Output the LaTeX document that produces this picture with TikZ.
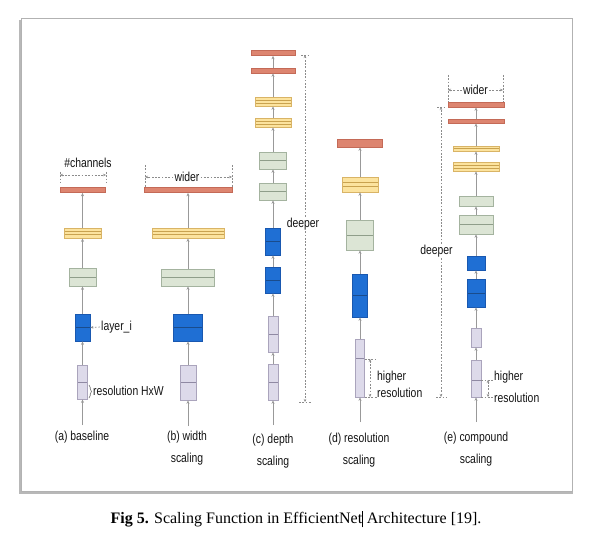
\documentclass[tikz,border=0pt]{standalone}
\usepackage{fontspec}
\setmainfont{Liberation Serif}
\newfontfamily\narrowsans[FakeStretch=0.8]{Liberation Sans}
\usetikzlibrary{arrows.meta,calc,positioning,decorations.pathreplacing}

\definecolor{redfill}{HTML}{DD8570}
\definecolor{rededge}{HTML}{C46A57}
\definecolor{yelfill}{HTML}{FCE39E}
\definecolor{yeledge}{HTML}{D9B466}
\definecolor{yelln}{HTML}{C9A24F}
\definecolor{grnfill}{HTML}{DCE5D5}
\definecolor{grnedge}{HTML}{A4B39F}
\definecolor{grnln}{HTML}{8F9E8A}
\definecolor{blufill}{HTML}{1F6FD4}
\definecolor{bluedge}{HTML}{1958B0}
\definecolor{bluln}{HTML}{1A4C8C}
\definecolor{lavfill}{HTML}{DDDAEA}
\definecolor{lavedge}{HTML}{AAA4BC}
\definecolor{lavln}{HTML}{8F89A3}

\begin{document}
\begin{tikzpicture}[x=1pt, y=-1pt,
  every node/.style={font=\narrowsans\fontsize{13}{22}\selectfont, text=black!92, inner sep=1pt},
  blk/.style={draw, line width=0.7pt, inner sep=0pt},
  red/.style 2 args={blk, fill=redfill, draw=rededge, minimum width=#1, minimum height=#2},
  yel/.style 2 args={blk, fill=yelfill, draw=yeledge, minimum width=#1, minimum height=#2},
  grn/.style 2 args={blk, fill=grnfill, draw=grnedge, minimum width=#1, minimum height=#2},
  blu/.style 2 args={blk, fill=blufill, draw=bluedge, minimum width=#1, minimum height=#2},
  lav/.style 2 args={blk, fill=lavfill, draw=lavedge, minimum width=#1, minimum height=#2},
  cutat/.style 2 args={path picture={\draw[#1, line width=0.7pt]
     ($(path picture bounding box.north west)!#2!(path picture bounding box.south west)$) --
     ($(path picture bounding box.north east)!#2!(path picture bounding box.south east)$);}},
  half/.style={cutat={#1}{.5}},
  thirds/.style={path picture={\draw[yelln, line width=0.6pt]
     ($(path picture bounding box.north west)!.35!(path picture bounding box.south west)$) --
     ($(path picture bounding box.north east)!.35!(path picture bounding box.south east)$)
     ($(path picture bounding box.north west)!.65!(path picture bounding box.south west)$) --
     ($(path picture bounding box.north east)!.65!(path picture bounding box.south east)$);}},
  axis/.style={draw=black!40, line width=0.8pt, -{Stealth[length=3.5pt,width=3pt]}},
  dim/.style={draw=black!45, line width=0.6pt, dash pattern=on 1.8pt off 1.5pt},
  dimar/.style={dim, -{Stealth[length=3pt,width=2.5pt]}}]

  \useasboundingbox (0,0) rectangle (591,545);
  \fill[white] (0,0) rectangle (591,545);
  % framed panel with shadow
  \fill[black!28] (19,20) rectangle (573,494);
  \draw[fill=white, draw=black!30, line width=0.6pt] (21,18) rectangle (572,491);

  % (a) baseline
  \coordinate (a0) at (82.5,425);
  \node[lav={10}{34}, half=lavln] (a1) at (82.5,382) {};
  \node[blu={15}{27}, half=bluln] (a2) at (82.5,327.5) {};
  \node[grn={27}{18}, half=grnln] (a3) at (82.5,277) {};
  \node[yel={37}{10}, thirds]     (a4) at (82.5,233) {};
  \node[red={45}{5}]              (a5) at (82.5,190) {};
  \draw[axis] (a0) -- (a1);  \draw[axis] (a1) -- (a2);  \draw[axis] (a2) -- (a3);
  \draw[axis] (a3) -- (a4);  \draw[axis] (a4) -- (a5);
  \node (ach) at (88,163) {\#channels};
  \coordinate (acl) at (60,175);  \coordinate (acr) at (106,175);
  \draw[dim, {Stealth[length=3pt,width=2.5pt]}-{Stealth[length=3pt,width=2.5pt]}] (acl) -- (acr);
  \draw[dim] ([yshift=3]acl) -- ([yshift=-7]acl)  ([yshift=3]acr) -- ([yshift=-7]acr);
  \node[anchor=west] (alay) at (100,327) {layer\_i};
  \draw[dimar] (alay.west) -- (a2.east);
  \draw[black!60, line width=0.6pt, decorate, decoration={brace, amplitude=2.5pt}] (89,385) -- (89,398);
  \node[anchor=west] (ares) at (92,391) {resolution HxW};
  \node (acap) at (82,437) {(a) baseline};

  % (b) width scaling
  \coordinate (b0) at (188,426);
  \node[lav={16}{35}, half=lavln] (b1) at (188,382.5) {};
  \node[blu={29}{27}, half=bluln] (b2) at (188,327.5) {};
  \node[grn={53}{17}, half=grnln] (b3) at (188,277.5) {};
  \node[yel={72}{10}, thirds]     (b4) at (188,233) {};
  \node[red={88}{5}]              (b5) at (188,190) {};
  \draw[axis] (b0) -- (b1);  \draw[axis] (b1) -- (b2);  \draw[axis] (b2) -- (b3);
  \draw[axis] (b3) -- (b4);  \draw[axis] (b4) -- (b5);
  \node (bwd) at (187,177) {wider};
  \coordinate (bwl) at (145,177);  \coordinate (bwr) at (232,177);
  \draw[dimar] (bwd.west) -- (bwl);  \draw[dimar] (bwd.east) -- (bwr);
  \draw[dim] ([yshift=12]bwl) -- ([yshift=-11]bwl)  ([yshift=12]bwr) -- ([yshift=-11]bwr);
  \node[align=center] (bcap) at (187,448) {(b) width\\scaling};

  % (c) depth scaling
  \coordinate (c0) at (273,425);
  \node[lav={10}{36}, half=lavln] (c1) at (273,382) {};
  \node[lav={10}{36}, half=lavln] (c2) at (273,334) {};
  \node[blu={15}{26}, half=bluln] (c3) at (273,280) {};
  \node[blu={15}{27}, half=bluln] (c4) at (273,241.5) {};
  \node[grn={27}{17}, half=grnln] (c5) at (273,191.5) {};
  \node[grn={27}{17}, half=grnln] (c6) at (273,160.5) {};
  \node[yel={36}{9}, thirds]      (c7) at (273,122.5) {};
  \node[yel={36}{9}, thirds]      (c8) at (273,101.5) {};
  \node[red={44}{5}]              (c9) at (273,70.5) {};
  \node[red={44}{5}]              (c10) at (273,53) {};
  \draw[axis] (c0) -- (c1);  \draw[axis] (c1) -- (c2);  \draw[axis] (c2) -- (c3);
  \draw[axis] (c3) -- (c4);  \draw[axis] (c4) -- (c5);  \draw[axis] (c5) -- (c6);
  \draw[axis] (c6) -- (c7);  \draw[axis] (c7) -- (c8);  \draw[axis] (c8) -- (c9);
  \draw[axis] (c9) -- (c10);
  \node (cdp) at (303,224) {deeper};
  \coordinate (ct) at (305,55);  \coordinate (cb) at (305,402);
  \draw[dimar] (cdp.north -| ct) -- (ct);  \draw[dimar] (cdp.south -| cb) -- (cb);
  \draw[dim] ([xshift=-4]ct) -- ([xshift=5]ct)  ([xshift=-6]cb) -- ([xshift=7]cb);
  \node[align=center] (ccap) at (273,451) {(c) depth\\scaling};

  % (d) resolution scaling
  \coordinate (d0) at (360,422);
  \node[lav={9}{58}, cutat={lavln}{.34}] (d1) at (360,368) {};
  \node[blu={15}{43}, half=bluln] (d2) at (360,295.5) {};
  \node[grn={27}{30}, half=grnln] (d3) at (360,235) {};
  \node[yel={36}{15}, thirds]     (d4) at (360,184.5) {};
  \node[red={45}{8}]              (d5) at (360,143) {};
  \draw[axis] (d0) -- (d1);  \draw[axis] (d1) -- (d2);  \draw[axis] (d2) -- (d3);
  \draw[axis] (d3) -- (d4);  \draw[axis] (d4) -- (d5);
  \coordinate (dh1) at (370,359);  \coordinate (dh2) at (370,397);
  \draw[dim, {Stealth[length=3pt,width=2.5pt]}-{Stealth[length=3pt,width=2.5pt]}] (dh1) -- (dh2);
  \draw[dim] (d1.east |- dh1) -- ([xshift=6]dh1)  (d1.east |- dh2) -- ([xshift=7]dh2);
  \node[anchor=west] (dhi) at (376,377) {higher};
  \node[anchor=west] (dre) at (376,393) {resolution};
  \node[align=center] (dcap) at (359,450) {(d) resolution\\scaling};

  % (e) compound scaling
  \coordinate (e0) at (476,422);
  \node[lav={10}{37}, cutat={lavln}{.54}] (e1) at (476,378.5) {};
  \node[lav={10}{19}]             (e2) at (476,337.5) {};
  \node[blu={18}{28}, half=bluln] (e3) at (476,293) {};
  \node[blu={18}{14}]             (e4) at (476,263) {};
  \node[grn={34}{19}, half=grnln] (e5) at (476,224.5) {};
  \node[grn={34}{10}]             (e6) at (476,201) {};
  \node[yel={46}{9}, thirds]      (e7) at (476,166.5) {};
  \node[yel={46}{5}, half=yelln]  (e8) at (476,148.5) {};
  \node[red={56}{4}]              (e9) at (476,121) {};
  \node[red={56}{5}]              (e10) at (476,104.5) {};
  \draw[axis] (e0) -- (e1);  \draw[axis] (e1) -- (e2);  \draw[axis] (e2) -- (e3);
  \draw[axis] (e3) -- (e4);  \draw[axis] (e4) -- (e5);  \draw[axis] (e5) -- (e6);
  \draw[axis] (e6) -- (e7);  \draw[axis] (e7) -- (e8);  \draw[axis] (e8) -- (e9);
  \draw[axis] (e9) -- (e10);
  \node (ewd) at (475.5,90) {wider};
  \coordinate (ewl) at (448,90);  \coordinate (ewr) at (503,90);
  \draw[dimar] (ewd.west) -- (ewl);  \draw[dimar] (ewd.east) -- (ewr);
  \draw[dim] ([yshift=15]ewl) -- ([yshift=-12]ewl)  ([yshift=15]ewr) -- ([yshift=-12]ewr);
  \node (edp) at (436.5,251) {deeper};
  \coordinate (et) at (441,107);  \coordinate (eb) at (441,397);
  \draw[dimar] (edp.north -| et) -- (et);  \draw[dimar] (edp.south -| eb) -- (eb);
  \draw[dim] ([xshift=-4]et) -- ([xshift=5]et)  ([xshift=-5]eb) -- ([xshift=6]eb);
  \coordinate (eh1) at (488,380);  \coordinate (eh2) at (488,397);
  \draw[dim, {Stealth[length=3pt,width=2.5pt]}-{Stealth[length=3pt,width=2.5pt]}] (eh1) -- (eh2);
  \draw[dim] (e1.east |- eh1) -- ([xshift=5]eh1)  (e1.east |- eh2) -- ([xshift=5]eh2);
  \node[anchor=west] (ehi) at (493,377) {higher};
  \node[anchor=west] (ere) at (493,398) {resolution};
  \node[align=center] (ecap) at (476,449.5) {(e) compound\\scaling};

  % figure caption
  \node[font=\rmfamily\fontsize{16}{19}\selectfont, text=black] (fig) at (296,519)
    {\textbf{Fig 5.} Scaling Function in EfficientNet\rule[-0.22em]{0.6pt}{1.05em} Architecture [19].};
\end{tikzpicture}
\end{document}
